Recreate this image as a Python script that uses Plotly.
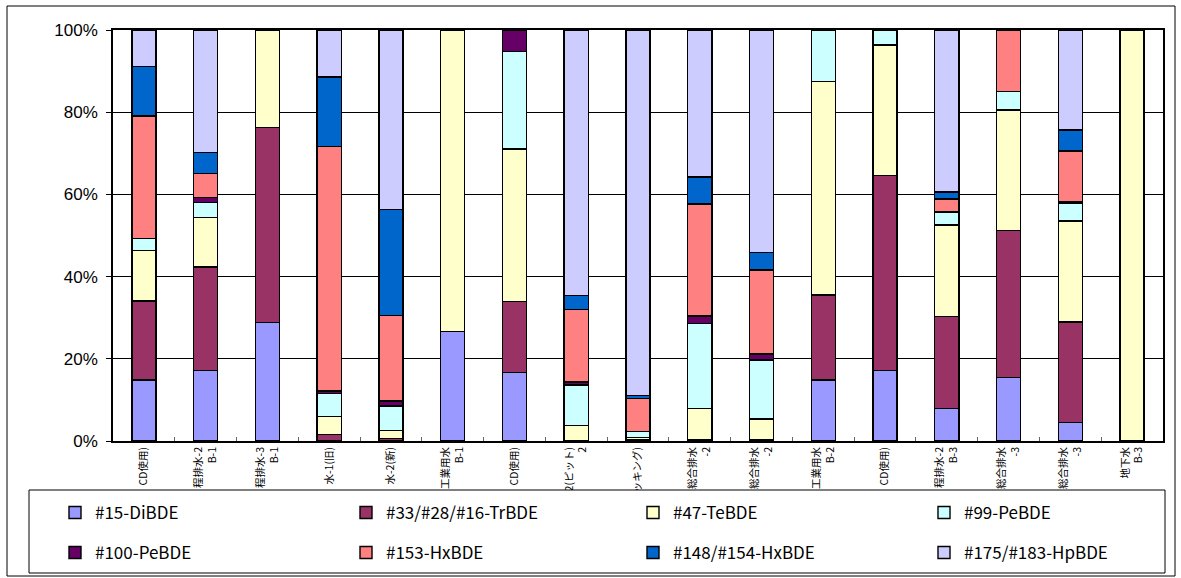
import plotly.graph_objects as go

# ---- data ----
cat_ids = [f"s{i+1}" for i in range(17)]
tick_labels = ["CD使用)", "程排水-2<br>B-1", "程排水-3<br>B-1", "水-1(旧)", "水-2(新)",
               "工業用水<br>B-1", "CD使用)", "-2(ピット)<br>2", "ッキング)", "総合排水<br>-2",
               "総合排水<br>-2", "工業用水<br>B-2", "CD使用)", "程排水-2<br>B-3", "総合排水<br>-3",
               "総合排水<br>-3", "地下水<br>B-3"]

y_tick_vals = [0, 20, 40, 60, 80, 100]
y_tick_text = ["0%", "20%", "40%", "60%", "80%", "100%"]

series_names = ["#15-DiBDE", "#33/#28/#16-TrBDE", "#47-TeBDE", "#99-PeBDE",
                "#100-PeBDE", "#153-HxBDE", "#148/#154-HxBDE", "#175/#183-HpBDE"]

di_bde    = [14.8, 17.1, 28.8, 0, 0, 26.6, 16.7, 0, 0, 0, 0, 14.8, 17.1, 7.9, 15.5, 4.5, 0]
tr_bde    = [19.3, 25.2, 47.5, 1.6, 0.6, 0, 17.2, 0, 0.4, 0.4, 0.3, 20.7, 47.5, 22.4, 35.7, 24.5, 0]
te_bde    = [12.2, 12.1, 23.7, 4.3, 1.9, 73.4, 37.1, 3.7, 0.4, 7.5, 5.1, 51.9, 31.8, 22.3, 29.3, 24.5, 100]
pe99_bde  = [3.0, 3.7, 0, 5.7, 6.0, 0, 23.7, 9.9, 1.5, 20.7, 14.3, 12.6, 3.6, 3.0, 4.5, 4.3, 0]
pe100_bde = [0, 1.2, 0, 0.6, 1.2, 0, 5.3, 0.8, 0, 1.8, 1.5, 0, 0, 0.3, 0, 0.4, 0]
hx153_bde = [29.8, 5.8, 0, 59.4, 20.8, 0, 0, 17.6, 8.1, 27.3, 20.4, 0, 0, 3.0, 15.0, 12.4, 0]
hx148_bde = [12.0, 5.1, 0, 17.0, 25.9, 0, 0, 3.4, 0.6, 6.5, 4.3, 0, 0, 1.7, 0, 5.1, 0]
hp_bde    = [8.9, 29.8, 0, 11.4, 43.6, 0, 0, 64.6, 89.0, 35.8, 54.1, 0, 0, 39.4, 0, 24.3, 0]

series_values = [di_bde, tr_bde, te_bde, pe99_bde, pe100_bde, hx153_bde, hx148_bde, hp_bde]
colors = ["#9999FF", "#993366", "#FFFFCC", "#CCFFFF", "#660066", "#FF8080", "#0066CC", "#CCCCFF"]

# ---- layout geometry (pixels) ----
W, H = 1181, 578
L, R, T, B = 113, 1163, 30, 441
COL_X = [55, 344, 633, 922]     # legend item left edges
ROW_Y = [513, 553]              # legend row centers


def px(x):
    return (x - L) / (R - L)


def py(y):
    return (B - y) / (B - T)


legend_keys = ["legend", "legend2", "legend3", "legend4"]

fig = go.Figure()
for i, (name, vals, col) in enumerate(zip(series_names, series_values, colors)):
    row, colidx = divmod(i, 4)
    fig.add_trace(go.Bar(
        x=cat_ids, y=vals, name=name,
        marker=dict(color=col, line=dict(color="black", width=1.4)),
        legend=legend_keys[row * 2 + colidx // 2],
    ))

legend_common = dict(
    orientation="h", entrywidth=246, entrywidthmode="pixels",
    font=dict(family="Noto Sans CJK JP", size=17, color="black"),
    bgcolor="rgba(0,0,0,0)", borderwidth=0,
    xref="container", yref="container",
    xanchor="left", yanchor="middle", traceorder="normal",
)

legends = {}
for r in range(2):
    for c in range(2):
        key = legend_keys[r * 2 + c]
        legends[key] = dict(x=COL_X[c * 2] / W, y=1 - ROW_Y[r] / H, **legend_common)

fig.update_layout(
    width=W, height=H, autosize=False,
    margin=dict(l=L, r=W - R, t=T, b=H - B, pad=0),
    paper_bgcolor="white", plot_bgcolor="white",
    barmode="stack", bargap=0.61,
    showlegend=True,
    xaxis=dict(
        type="category", tickvals=cat_ids, ticktext=tick_labels,
        tickangle=-90, tickson="boundaries", ticks="inside", ticklen=4,
        tickcolor="#666666", tickwidth=1, automargin=False,
        tickfont=dict(family="Noto Sans CJK JP", size=10.5, color="black"),
        showline=True, linecolor="black", linewidth=1.5, mirror=True,
        showgrid=False,
    ),
    yaxis=dict(
        range=[0, 100], tickmode="array", tickvals=y_tick_vals, ticktext=y_tick_text,
        ticks="outside", ticklen=5, tickcolor="black", automargin=False,
        ticklabelstandoff=5,
        tickfont=dict(family="Liberation Sans", size=17, color="black"),
        showgrid=True, gridcolor="black", gridwidth=1,
        showline=True, linecolor="black", linewidth=1.5, mirror=True,
        zeroline=False,
    ),
    shapes=[
        dict(type="rect", xref="paper", yref="paper",
             x0=px(7), x1=px(1175), y0=py(576), y1=py(6),
             line=dict(color="black", width=1), fillcolor="rgba(0,0,0,0)", layer="below"),
        dict(type="rect", xref="paper", yref="paper",
             x0=px(29), x1=px(1165), y0=py(573), y1=py(490),
             line=dict(color="black", width=1), fillcolor="white", layer="above"),
    ],
    **legends,
)

fig.write_html("out.html", config={"displayModeBar": False},
               post_script="document.body.style.margin='0';document.body.style.padding='0';"
                           "document.body.style.overflow='hidden';")
